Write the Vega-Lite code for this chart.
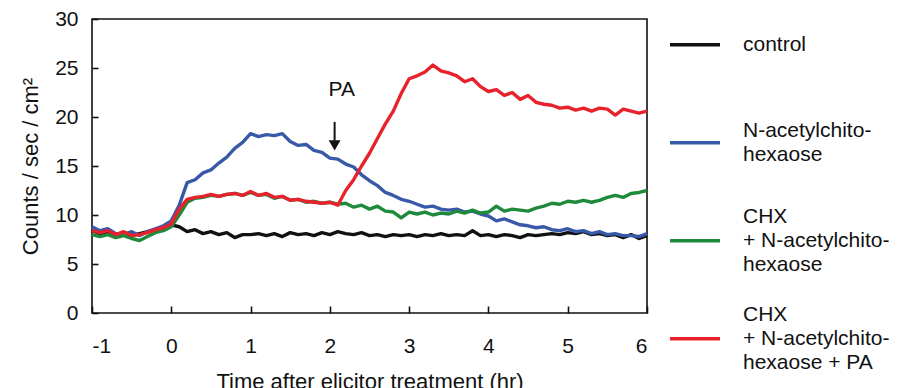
{
 "$schema": "https://vega.github.io/schema/vega-lite/v6.json",
 "width": 555, "height": 294,
 "autosize": {"type": "none"},
 "padding": {"left": 92, "top": 19, "right": 254, "bottom": 75},
 "config": {
  "font": "Liberation Sans",
  "view": {"stroke": "#111", "strokeWidth": 1.6},
  "axis": {"domain": false, "tickColor": "#111", "tickWidth": 1.6, "labelColor": "#111", "titleColor": "#111", "grid": false, "labelFontSize": 21, "titleFontSize": 22, "titleFontWeight": "normal"},
  "legend": {"labelFontSize": 21, "labelColor": "#111"},
  "style": {"guide-label": {"lineHeight": 24}}
 },
 "datasets": {
  "curves": [
   {"t":-1.0,"a":8.4,"b":8.8,"c":8.0,"d":8.4},
   {"t":-0.9,"a":8.1,"b":8.4,"c":7.8,"d":8.2},
   {"t":-0.8,"a":8.3,"b":8.6,"c":8.0,"d":8.4},
   {"t":-0.7,"a":8.0,"b":8.1,"c":7.7,"d":8.0},
   {"t":-0.6,"a":8.2,"b":8.0,"c":7.9,"d":8.3},
   {"t":-0.5,"a":7.9,"b":8.3,"c":7.6,"d":7.9},
   {"t":-0.4,"a":8.1,"b":7.9,"c":7.4,"d":8.0},
   {"t":-0.3,"a":8.3,"b":8.3,"c":7.8,"d":8.2},
   {"t":-0.2,"a":8.5,"b":8.6,"c":8.2,"d":8.5},
   {"t":-0.1,"a":8.7,"b":8.9,"c":8.4,"d":8.7},
   {"t":0.0,"a":9.0,"b":9.4,"c":8.8,"d":9.1},
   {"t":0.1,"a":8.8,"b":11.0,"c":10.0,"d":10.6},
   {"t":0.2,"a":8.3,"b":13.3,"c":11.3,"d":11.6},
   {"t":0.3,"a":8.5,"b":13.6,"c":11.7,"d":11.8},
   {"t":0.4,"a":8.1,"b":14.3,"c":11.8,"d":11.9},
   {"t":0.5,"a":8.3,"b":14.6,"c":12.0,"d":12.1},
   {"t":0.6,"a":8.0,"b":15.3,"c":11.9,"d":11.9},
   {"t":0.7,"a":8.2,"b":15.9,"c":12.1,"d":12.1},
   {"t":0.8,"a":7.7,"b":16.8,"c":12.2,"d":12.2},
   {"t":0.9,"a":8.0,"b":17.4,"c":12.0,"d":12.0},
   {"t":1.0,"a":8.0,"b":18.3,"c":12.3,"d":12.4},
   {"t":1.1,"a":8.1,"b":18.0,"c":12.0,"d":12.0},
   {"t":1.2,"a":7.9,"b":18.2,"c":12.1,"d":12.2},
   {"t":1.3,"a":8.1,"b":18.1,"c":11.7,"d":11.8},
   {"t":1.4,"a":7.8,"b":18.3,"c":11.9,"d":11.9},
   {"t":1.5,"a":8.2,"b":17.5,"c":11.5,"d":11.5},
   {"t":1.6,"a":8.0,"b":17.1,"c":11.6,"d":11.6},
   {"t":1.7,"a":8.1,"b":17.2,"c":11.3,"d":11.4},
   {"t":1.8,"a":7.9,"b":16.6,"c":11.4,"d":11.3},
   {"t":1.9,"a":8.2,"b":16.4,"c":11.2,"d":11.2},
   {"t":2.0,"a":8.0,"b":15.8,"c":11.3,"d":11.3},
   {"t":2.1,"a":8.3,"b":15.7,"c":11.1,"d":11.0},
   {"t":2.2,"a":8.1,"b":15.2,"c":11.2,"d":12.5},
   {"t":2.3,"a":8.0,"b":14.9,"c":10.8,"d":13.6},
   {"t":2.4,"a":8.2,"b":14.1,"c":11.0,"d":15.0},
   {"t":2.5,"a":7.9,"b":13.5,"c":10.6,"d":16.3},
   {"t":2.6,"a":8.0,"b":13.0,"c":10.9,"d":17.8},
   {"t":2.7,"a":7.8,"b":12.3,"c":10.4,"d":19.3},
   {"t":2.8,"a":8.0,"b":12.0,"c":10.3,"d":20.6},
   {"t":2.9,"a":7.9,"b":11.6,"c":9.7,"d":22.4},
   {"t":3.0,"a":8.0,"b":11.4,"c":10.3,"d":23.9},
   {"t":3.1,"a":7.8,"b":11.1,"c":10.1,"d":24.2},
   {"t":3.2,"a":8.0,"b":10.8,"c":10.3,"d":24.6},
   {"t":3.3,"a":7.9,"b":10.9,"c":10.0,"d":25.3},
   {"t":3.4,"a":8.1,"b":10.6,"c":10.2,"d":24.7},
   {"t":3.5,"a":7.9,"b":10.5,"c":10.1,"d":24.5},
   {"t":3.6,"a":8.0,"b":10.6,"c":10.4,"d":24.2},
   {"t":3.7,"a":7.9,"b":10.3,"c":10.2,"d":23.6},
   {"t":3.8,"a":8.4,"b":10.4,"c":10.5,"d":23.9},
   {"t":3.9,"a":7.9,"b":10.1,"c":10.2,"d":23.1},
   {"t":4.0,"a":8.0,"b":9.9,"c":10.3,"d":22.6},
   {"t":4.1,"a":7.8,"b":9.4,"c":10.9,"d":22.8},
   {"t":4.2,"a":8.0,"b":9.6,"c":10.4,"d":22.2},
   {"t":4.3,"a":7.9,"b":9.3,"c":10.6,"d":22.5},
   {"t":4.4,"a":7.7,"b":9.0,"c":10.5,"d":21.8},
   {"t":4.5,"a":8.0,"b":8.9,"c":10.4,"d":22.2},
   {"t":4.6,"a":7.9,"b":8.7,"c":10.7,"d":21.5},
   {"t":4.7,"a":8.0,"b":8.8,"c":10.9,"d":21.3},
   {"t":4.8,"a":8.1,"b":8.5,"c":11.2,"d":21.2},
   {"t":4.9,"a":8.0,"b":8.4,"c":11.1,"d":20.9},
   {"t":5.0,"a":8.2,"b":8.6,"c":11.4,"d":21.0},
   {"t":5.1,"a":8.1,"b":8.3,"c":11.3,"d":20.7},
   {"t":5.2,"a":8.3,"b":8.4,"c":11.5,"d":20.9},
   {"t":5.3,"a":8.0,"b":8.1,"c":11.3,"d":20.6},
   {"t":5.4,"a":8.1,"b":8.3,"c":11.5,"d":20.9},
   {"t":5.5,"a":7.9,"b":8.0,"c":11.8,"d":20.8},
   {"t":5.6,"a":8.0,"b":8.1,"c":12.0,"d":20.2},
   {"t":5.7,"a":7.7,"b":7.9,"c":11.8,"d":20.8},
   {"t":5.8,"a":8.0,"b":7.9,"c":12.2,"d":20.6},
   {"t":5.9,"a":7.6,"b":7.8,"c":12.3,"d":20.4},
   {"t":6.0,"a":7.9,"b":8.1,"c":12.5,"d":20.6}
  ],
  "arrow": [{"t": 2.06, "v": 19.5, "v2": 17.6, "head": 17.1}],
  "label": [{"t": 2.15, "v": 22.8, "txt": "PA"}]
 },
 "layer": [
  {
   "data": {"name": "curves"},
   "transform": [{"fold": ["a", "b", "c", "d"], "as": ["series", "v"]}],
   "mark": {"type": "line", "strokeWidth": 3.4, "strokeJoin": "round"},
   "encoding": {
    "x": {"field": "t", "type": "quantitative", "scale": {"domain": [-1, 6], "nice": false},
          "axis": {"values": [-1, 0, 1, 2, 3, 4, 5, 6], "offset": -7, "tickSize": 7, "labelPadding": 22, "labelExpr": "'' + datum.value", "title": "Time after elicitor treatment (hr)", "titlePadding": 15}},
    "y": {"field": "v", "type": "quantitative", "scale": {"domain": [0, 30], "nice": false},
          "axis": {"values": [0, 5, 10, 15, 20, 25, 30], "offset": -6, "tickSize": 6, "labelPadding": 14, "title": "Counts / sec / cm²", "titlePadding": 12}},
    "color": {"field": "series", "type": "nominal",
              "scale": {"domain": ["a", "b", "c", "d"], "range": ["#111111", "#3858a8", "#1f8a3c", "#e8222c"]},
              "legend": {"orient": "none", "legendX": 576, "legendY": -23, "title": null, "symbolType": "stroke", "symbolSize": 2500, "symbolStrokeWidth": 3.5, "labelOffset": 21, "rowPadding": 0, "clipHeight": 97.7,
                         "labelExpr": "datum.label == 'a' ? 'control' : datum.label == 'b' ? ['N-acetylchito-', 'hexaose'] : datum.label == 'c' ? ['CHX', '+ N-acetylchito-', 'hexaose'] : ['CHX', '+ N-acetylchito-', 'hexaose + PA']",
                         "encode": {"labels": {"update": {"dy": {"signal": "datum.value == 'a' ? 0 : datum.value == 'b' ? -12 : -24"}}}}}}
   }
  },
  {
   "data": {"name": "arrow"},
   "mark": {"type": "rule", "strokeWidth": 2, "color": "#111"},
   "encoding": {"x": {"field": "t", "type": "quantitative"}, "y": {"field": "v", "type": "quantitative"}, "y2": {"field": "v2"}}
  },
  {
   "data": {"name": "arrow"},
   "mark": {"type": "point", "shape": "triangle-down", "filled": true, "color": "#111", "size": 140, "opacity": 1},
   "encoding": {"x": {"field": "t", "type": "quantitative"}, "y": {"field": "head", "type": "quantitative"}}
  },
  {
   "data": {"name": "label"},
   "mark": {"type": "text", "fontSize": 21, "color": "#111"},
   "encoding": {"x": {"field": "t", "type": "quantitative"}, "y": {"field": "v", "type": "quantitative"}, "text": {"field": "txt"}}
  }
 ]
}
